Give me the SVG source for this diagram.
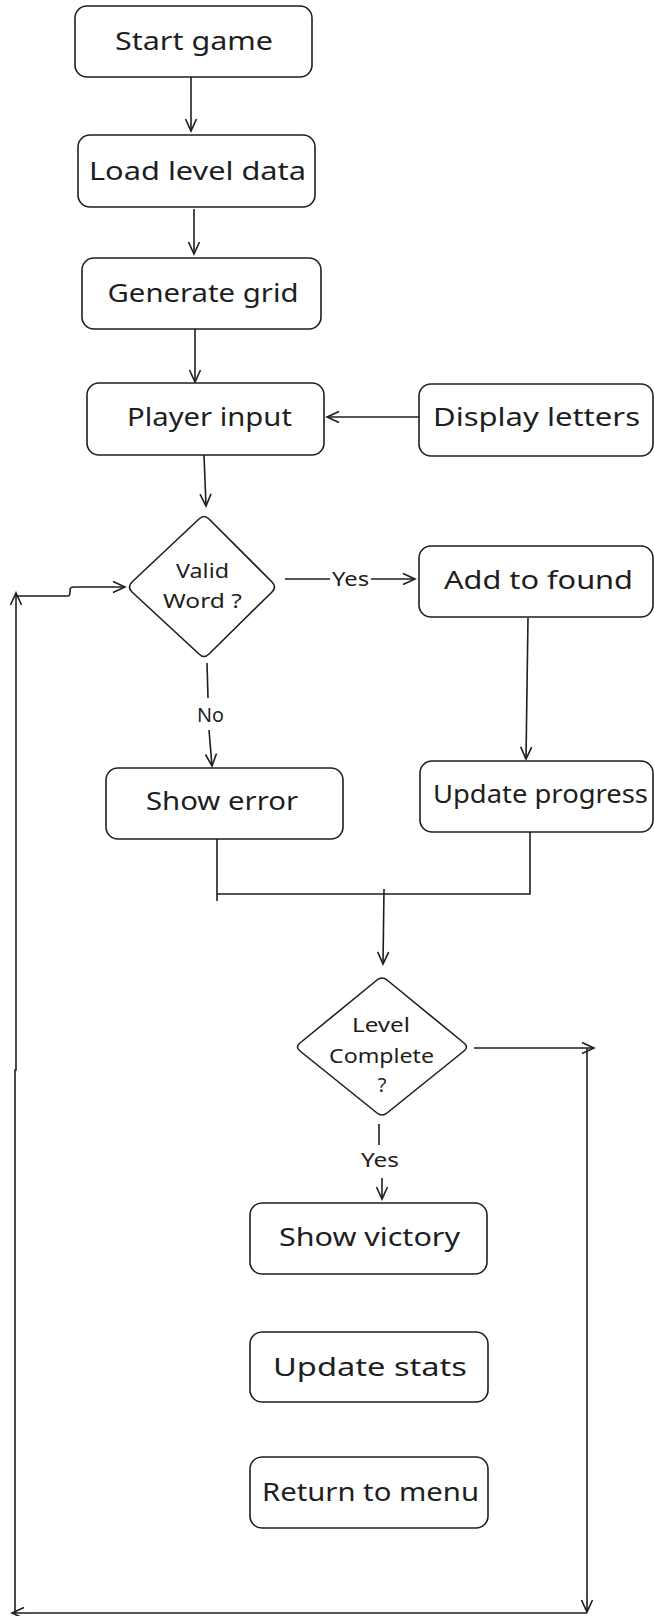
<svg xmlns="http://www.w3.org/2000/svg" width="654" height="1616" viewBox="0 0 654 1616">
<style>
.box{fill:#ffffff;stroke:#1e1e1e;stroke-width:1.6}
.dia{fill:#ffffff;stroke:#1e1e1e;stroke-width:1.6;stroke-linejoin:round}
.t{font-family:"Noto Sans","DejaVu Sans",sans-serif;font-size:25px;fill:#1e1e1e;text-anchor:middle}
.s{font-family:"Noto Sans","DejaVu Sans",sans-serif;font-size:20px;fill:#1e1e1e;text-anchor:middle}
.c{fill:none;stroke:#1e1e1e;stroke-width:1.6}
</style>
<defs>
<marker id="ah" markerUnits="userSpaceOnUse" markerWidth="16" markerHeight="14" refX="13" refY="7" orient="auto">
<path d="M1,1.5 L13,7 L1,12.5" fill="none" stroke="#1e1e1e" stroke-width="1.6"/>
</marker>
</defs>
<rect width="654" height="1616" fill="#ffffff"/>
<g id="connectors">
<path class="c" d="M191,77 L191,131" marker-end="url(#ah)"/>
<path class="c" d="M194,209 L194,254" marker-end="url(#ah)"/>
<path class="c" d="M195,329 L195,382" marker-end="url(#ah)"/>
<path class="c" d="M419,417 L327,417" marker-end="url(#ah)"/>
<path class="c" d="M204,455 L206,506" marker-end="url(#ah)"/>
<path class="c" d="M285,579 L330,579"/>
<path class="c" d="M371,579 L415,579" marker-end="url(#ah)"/>
<path class="c" d="M207,663 L208,698"/>
<path class="c" d="M209,730 L212,766" marker-end="url(#ah)"/>
<path class="c" d="M528,618 L526,759" marker-end="url(#ah)"/>
<path class="c" d="M217,839 L217,901 M217,894 L530,894 L530,832"/>
<path class="c" d="M384,889 L383,964" marker-end="url(#ah)"/>
<path class="c" d="M474,1048 L594,1048" marker-end="url(#ah)"/>
<path class="c" d="M587,1048 L587,1612" marker-end="url(#ah)"/>
<path class="c" d="M587,1613 L298,1613 L12,1613" marker-end="url(#ah)"/>
<path class="c" d="M15,1613 L15,1070 L16,1070 L16,593" marker-end="url(#ah)"/>
<path class="c" d="M16,596 L68,596 Q70,596 70,592 L70,590 Q70,587 74,587 L125,587" marker-end="url(#ah)"/>
<path class="c" d="M379,1124 L379,1145"/>
<path class="c" d="M382,1178 L382,1199" marker-end="url(#ah)"/>
<text class="s" x="350.5" y="586" textLength="37" lengthAdjust="spacingAndGlyphs">Yes</text>
<text class="s" x="210.5" y="722" textLength="27" lengthAdjust="spacingAndGlyphs">No</text>
<text class="s" x="380" y="1167" textLength="38" lengthAdjust="spacingAndGlyphs">Yes</text>
</g>
<g id="start">
<rect class="box" x="75" y="6" width="237" height="71" rx="12"/>
<text class="t" x="194" y="50" textLength="158" lengthAdjust="spacingAndGlyphs">Start game</text>
</g>
<g id="load">
<rect class="box" x="78" y="135" width="237" height="72" rx="12"/>
<text class="t" x="197.5" y="180" textLength="217" lengthAdjust="spacingAndGlyphs">Load level data</text>
</g>
<g id="generate">
<rect class="box" x="82" y="258" width="239" height="71" rx="12"/>
<text class="t" x="203" y="302" textLength="191" lengthAdjust="spacingAndGlyphs">Generate grid</text>
</g>
<g id="player">
<rect class="box" x="87" y="383" width="237" height="72" rx="12"/>
<text class="t" x="209.5" y="426" textLength="165" lengthAdjust="spacingAndGlyphs">Player input</text>
</g>
<g id="display">
<rect class="box" x="419" y="384" width="234" height="72" rx="12"/>
<text class="t" x="536.5" y="426" textLength="207" lengthAdjust="spacingAndGlyphs">Display letters</text>
</g>
<g id="valid">
<path class="dia" d="M199,519 Q204,514 209,519 L272,582 Q277,587 272,592 L209,654 Q204,659 199,654 L132,592 Q127,587 132,582 Z"/>
<text class="s" x="202.5" y="578" textLength="53" lengthAdjust="spacingAndGlyphs">Valid</text>
<text class="s" x="202.5" y="608" textLength="79" lengthAdjust="spacingAndGlyphs">Word ?</text>
</g>
<g id="found">
<rect class="box" x="419" y="546" width="234" height="71" rx="12"/>
<text class="t" x="538.5" y="589" textLength="189" lengthAdjust="spacingAndGlyphs">Add to found</text>
</g>
<g id="error">
<rect class="box" x="106" y="768" width="237" height="71" rx="12"/>
<text class="t" x="222" y="810" textLength="152" lengthAdjust="spacingAndGlyphs">Show error</text>
</g>
<g id="progress">
<rect class="box" x="420" y="761" width="233" height="71" rx="12"/>
<text class="t" x="540.5" y="803" textLength="215" lengthAdjust="spacingAndGlyphs">Update progress</text>
</g>
<g id="complete">
<path class="dia" d="M377,980 Q382,976 387,980 L464,1043 Q469,1047 464,1051 L387,1113 Q382,1117 377,1113 L300,1051 Q295,1047 300,1043 Z"/>
<text class="s" x="381" y="1032" textLength="58" lengthAdjust="spacingAndGlyphs">Level</text>
<text class="s" x="381.5" y="1063" textLength="105" lengthAdjust="spacingAndGlyphs">Complete</text>
<text class="s" x="382" y="1092">?</text>
</g>
<g id="victory">
<rect class="box" x="250" y="1203" width="237" height="71" rx="12"/>
<text class="t" x="369.5" y="1246" textLength="181" lengthAdjust="spacingAndGlyphs">Show victory</text>
</g>
<g id="stats">
<rect class="box" x="250" y="1332" width="238" height="70" rx="12"/>
<text class="t" x="370" y="1376" textLength="194" lengthAdjust="spacingAndGlyphs">Update stats</text>
</g>
<g id="menu">
<rect class="box" x="250" y="1457" width="238" height="71" rx="12"/>
<text class="t" x="370.5" y="1501" textLength="217" lengthAdjust="spacingAndGlyphs">Return to menu</text>
</g>
</svg>
